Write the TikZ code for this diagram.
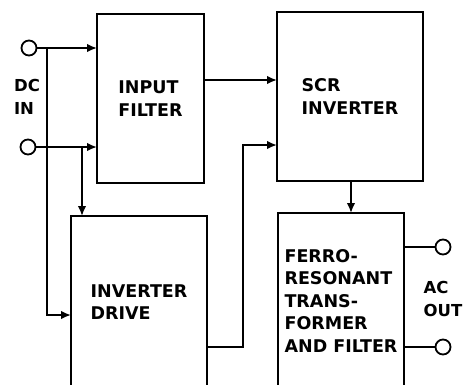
\documentclass[tikz,border=0pt]{standalone}
\usepackage{fontspec}
\setmainfont{DejaVu Sans}
\usetikzlibrary{arrows.meta}
\begin{document}
\begin{tikzpicture}[x=1pt,y=-1pt,
  blk/.style={draw,line width=1.8pt,inner sep=0pt,align=left,
    font=\bfseries\fontsize{17.5}{22.5}\selectfont},
  term/.style={draw,circle,line width=1.8pt,minimum size=15pt,inner sep=0pt},
  lbl/.style={align=left,inner sep=0pt,font=\bfseries\fontsize{16.5}{22.5}\selectfont},
  wire/.style={line width=1.8pt},
  arr/.style={wire,-{Latex[length=10pt,width=8.5pt]}}]
\useasboundingbox (0,0) rectangle (465,384);
\clip (0,0) rectangle (465,384);
% blocks
\node[blk,minimum width=107pt,minimum height=169pt] (filt) at (150.5,98.5) {INPUT\\FILTER};
\node[blk,minimum width=146pt,minimum height=169pt] (scr) at (350,96.5) {SCR\\INVERTER};
\node[blk,minimum width=136pt,minimum height=172pt] (drv) at (139,302) {INVERTER\\DRIVE};
\node[blk,minimum width=126pt,minimum height=175pt] (fer) at (341,300.5) {FERRO-\\RESONANT\\TRANS-\\FORMER\\AND FILTER};
% terminals
\node[term] (c1) at (29,48) {};
\node[term] (c2) at (28,147) {};
\node[term] (c3) at (443,247) {};
\node[term] (c4) at (443,347) {};
\node[lbl] (dcin) at (27,97) {DC\\IN};
\node[lbl] (acout) at (443,299) {AC\\OUT};
% junctions and bends
\coordinate (j1) at (47,48);
\coordinate (j1b) at (47,315);
\coordinate (d1) at (71,315);
\coordinate (j2) at (82,147);
\coordinate (j2b) at (82,216);
\coordinate (f1) at (97,48);
\coordinate (f2) at (97,147);
\coordinate (fo) at (204,80);
\coordinate (si) at (277,80);
\coordinate (do) at (207,347);
\coordinate (b1) at (243,347);
\coordinate (b2) at (243,145);
\coordinate (s2) at (277,145);
\coordinate (so) at (351,181);
\coordinate (fi) at (351,213);
\coordinate (o1) at (404,247);
\coordinate (o2) at (404,347);
% connectors
\draw[arr] (c1) -- (f1);
\draw[arr] (c2) -- (f2);
\draw[arr] (j1) -- (j1b) -- (d1);
\draw[arr] (j2) -- (j2b);
\draw[arr] (fo) -- (si);
\draw[arr] (do) -- (b1) -- (b2) -- (s2);
\draw[arr] (so) -- (fi);
\draw[wire] (o1) -- (c3);
\draw[wire] (o2) -- (c4);
\end{tikzpicture}
\end{document}
